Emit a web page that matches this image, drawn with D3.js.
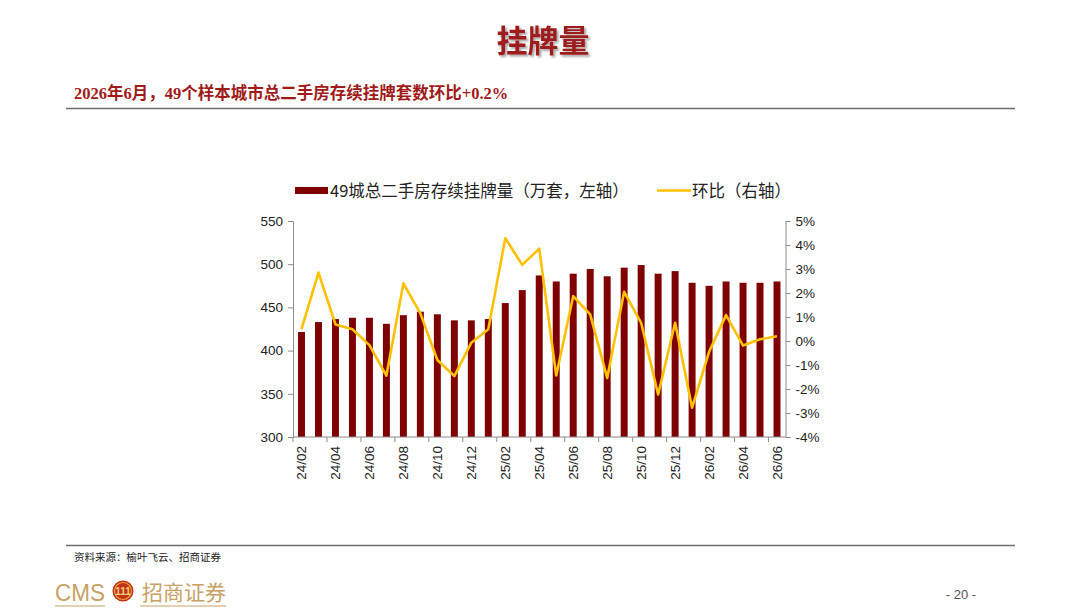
<!DOCTYPE html>
<html>
<head>
<meta charset="utf-8">
<script src="https://cdn.jsdelivr.net/npm/d3@7"></script>
<style>
  html, body { margin: 0; padding: 0; background: #fff; }
  svg { display: block; font-family: "Liberation Sans", Arial, "Noto Sans CJK SC", sans-serif; }
</style>
</head>
<body>
<svg id="chart" width="1080" height="608"></svg>
<script>
// Months shown on the category axis
const months = ['24/02','24/03','24/04','24/05','24/06','24/07','24/08','24/09','24/10','24/11','24/12',
  '25/01','25/02','25/03','25/04','25/05','25/06','25/07','25/08','25/09','25/10','25/11','25/12',
  '26/01','26/02','26/03','26/04','26/05','26/06'];

// 49-city second-hand listings stock (10k units, left axis)
const listings = [421.5, 433, 436.5, 438, 438, 431, 441, 445, 442, 435, 435, 436.5, 455, 470, 487,
  480, 489, 494.5, 486, 496, 499, 489, 492, 478.5, 475, 480, 478.5, 478.5, 480];

// Month-on-month change, % (right axis)
const momChange = [0.49, 2.85, 0.69, 0.49, -0.17, -1.44, 2.4, 1.15, -0.79, -1.46, -0.07, 0.49, 4.28,
  3.17, 3.85, -1.44, 1.87, 1.11, -1.54, 2.05, 0.76, -2.23, 0.76, -2.78, -0.45, 1.08, -0.19, 0.07, 0.2];

const leftTicks  = [300, 350, 400, 450, 500, 550];
const rightTicks = [-4, -3, -2, -1, 0, 1, 2, 3, 4, 5];

const legendLabels = ['49城总二手房存续挂牌量（万套，左轴）', '环比（右轴）'];

const pageTitle = '挂牌量';
const subTitle  = '2026年6月，49个样本城市总二手房存续挂牌套数环比+0.2%';
const sourceText = '资料来源：榆叶飞云、招商证券';

(function () {
  const svg = d3.select('#chart');
  const BAR = '#7f0000', LINE = '#ffc000', AXIS = '#8c8c8c', DARKRED = '#a11a1a', GOLD = '#c8a166';
  const cjk = '"Noto Sans CJK SC", sans-serif';

  // Header
  const defs = svg.append('defs');
  const shadow = defs.append('filter').attr('id', 'shadow')
    .attr('x', '-20%').attr('y', '-20%').attr('width', '140%').attr('height', '140%');
  shadow.append('feDropShadow').attr('dx', 2).attr('dy', 2).attr('stdDeviation', 1.2)
    .attr('flood-color', '#000').attr('flood-opacity', 0.35);

  svg.append('text')
    .attr('x', 543).attr('y', 52)
    .attr('text-anchor', 'middle')
    .attr('font-family', cjk).attr('font-size', 31).attr('font-weight', 700)
    .attr('fill', '#9e1b1b').attr('filter', 'url(#shadow)')
    .text(pageTitle);

  svg.append('text')
    .attr('x', 74).attr('y', 99)
    .attr('font-family', '"Liberation Serif", "Noto Sans CJK SC", serif')
    .attr('font-size', 16.5).attr('font-weight', 700)
    .attr('fill', DARKRED)
    .text(subTitle);

  svg.append('line').attr('x1', 66).attr('x2', 1015).attr('y1', 108.5).attr('y2', 108.5)
    .attr('stroke', '#6e6e6e').attr('stroke-width', 1.6);

  // Plot area
  const left = 293, right = 785.5, top = 221, bottom = 437;

  const x = d3.scaleBand().domain(months).range([left, right]).paddingInner(0.59).paddingOuter(0.295);
  const xc = d3.scaleBand().domain(months).range([left, right]);
  const yL = d3.scaleLinear().domain([300, 550]).range([bottom, top]);
  const yR = d3.scaleLinear().domain([-4, 5]).range([bottom, top]);

  // Bars
  svg.append('g').selectAll('rect').data(listings).join('rect')
    .attr('x', (d, i) => x(months[i]))
    .attr('width', x.bandwidth())
    .attr('y', d => yL(d))
    .attr('height', d => yL(300) - yL(d))
    .attr('fill', BAR);

  // Left axis
  const gL = svg.append('g').attr('transform', `translate(${left},0)`)
    .call(d3.axisLeft(yL).tickValues(leftTicks).tickSize(5).tickPadding(5));
  gL.selectAll('text').attr('font-size', 13.5).attr('fill', '#222');

  // Right axis
  const gR = svg.append('g').attr('transform', `translate(${right},0)`)
    .call(d3.axisRight(yR).tickValues(rightTicks).tickSize(5).tickPadding(5).tickFormat(d => d + '%'));
  gR.selectAll('text').attr('font-size', 13.5).attr('fill', '#222');

  // Bottom axis: ticks at every second band boundary, labels at every second band centre
  const everyOther = months.filter((m, i) => i % 2 === 0);
  const gB = svg.append('g').attr('transform', `translate(0,${bottom})`);
  gB.append('line').attr('x1', left).attr('x2', right).attr('stroke', AXIS);
  gB.selectAll('line.tk').data(everyOther).join('line')
    .attr('class', 'tk')
    .attr('x1', d => xc(d)).attr('x2', d => xc(d))
    .attr('y1', 0).attr('y2', 5)
    .attr('stroke', AXIS);
  gB.selectAll('text').data(everyOther).join('text')
    .attr('transform', d => `translate(${xc(d) + xc.bandwidth() / 2 + 4.5},9) rotate(-90)`)
    .attr('text-anchor', 'end')
    .attr('font-size', 13.5).attr('fill', '#222')
    .text(d => d);

  svg.selectAll('.domain, .tick line').attr('stroke', AXIS);

  // MoM line
  const line = d3.line()
    .x((d, i) => xc(months[i]) + xc.bandwidth() / 2)
    .y(d => yR(d));

  svg.append('path').datum(momChange)
    .attr('fill', 'none')
    .attr('stroke', LINE)
    .attr('stroke-width', 2.6)
    .attr('stroke-linejoin', 'round')
    .attr('d', line);

  // Legend
  const lg = svg.append('g').attr('font-family', cjk).attr('font-size', 16.5).attr('fill', '#222');
  lg.append('rect').attr('x', 295).attr('y', 187).attr('width', 33).attr('height', 7).attr('fill', BAR);
  lg.append('text').attr('x', 330).attr('y', 196.5).text(legendLabels[0]);
  lg.append('line').attr('x1', 657).attr('x2', 691).attr('y1', 190.5).attr('y2', 190.5)
    .attr('stroke', LINE).attr('stroke-width', 2.6);
  lg.append('text').attr('x', 692).attr('y', 196.5).text(legendLabels[1]);

  // Footer
  svg.append('line').attr('x1', 66).attr('x2', 1015).attr('y1', 545.5).attr('y2', 545.5)
    .attr('stroke', '#6e6e6e').attr('stroke-width', 1.6);

  svg.append('text')
    .attr('x', 74).attr('y', 561)
    .attr('font-family', cjk).attr('font-size', 10.5).attr('fill', '#222')
    .text(sourceText);

  const logo = svg.append('g');
  logo.append('text').attr('x', 55).attr('y', 601)
    .attr('font-family', '"Liberation Sans Narrow", "Liberation Sans", sans-serif')
    .attr('font-size', 24).attr('fill', GOLD)
    .attr('textLength', 50).attr('lengthAdjust', 'spacingAndGlyphs')
    .text('CMS');
  logo.append('circle').attr('cx', 123).attr('cy', 591).attr('r', 10.5).attr('fill', '#c0331a');
  logo.append('circle').attr('cx', 123).attr('cy', 591).attr('r', 8.5).attr('fill', 'none')
    .attr('stroke', '#f0a030').attr('stroke-width', 1.2);
  logo.append('text').attr('x', 123).attr('y', 595).attr('text-anchor', 'middle')
    .attr('font-size', 10).attr('font-weight', 700).attr('fill', '#f6d27a')
    .text('111');
  logo.append('text').attr('x', 142).attr('y', 600)
    .attr('font-family', cjk).attr('font-size', 21).attr('fill', GOLD)
    .text('招商证券');
  logo.append('line').attr('x1', 55).attr('x2', 105).attr('y1', 606).attr('y2', 606)
    .attr('stroke', GOLD).attr('stroke-width', 1.2);
  logo.append('line').attr('x1', 140).attr('x2', 226).attr('y1', 606).attr('y2', 606)
    .attr('stroke', GOLD).attr('stroke-width', 1.2);

  svg.append('text')
    .attr('x', 961).attr('y', 599).attr('text-anchor', 'middle')
    .attr('font-size', 13).attr('fill', '#555')
    .text('- 20 -');
})();
</script>
</body>
</html>
